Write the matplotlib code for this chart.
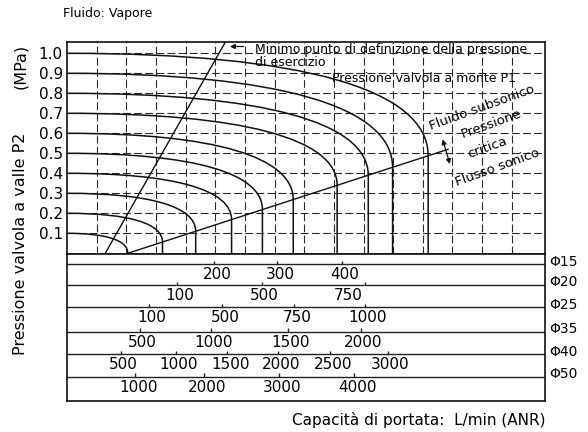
import matplotlib
matplotlib.use('Agg')
import matplotlib.pyplot as plt
from matplotlib.path import Path
from matplotlib.patches import PathPatch

# upstream pressure P1 for each curve (MPa)
p1_values = [0.1, 0.2, 0.3, 0.4, 0.5, 0.6, 0.7, 0.8, 0.9, 1.0]
# flow (grid units) where each curve turns sonic, and the critical P2 there
q_sonic = [2.05, 3.22, 4.34, 5.55, 6.59, 7.63, 9.11, 10.16, 10.98, 12.18]
p_crit = [0.0, 0.056, 0.11, 0.168, 0.219, 0.268, 0.34, 0.39, 0.43, 0.488]

# critical pressure line and minimum operating-pressure line
crit_q = [2.05, 12.85]
crit_p = [0.0, 0.52]
min_q = [1.29, 5.34]
min_p = [0.0, 1.056]

# flow scales for each port size
port_names = ['Φ15', 'Φ20', 'Φ25', 'Φ35', 'Φ40', 'Φ50']
scale_labels = [
    ['200', '300', '400'],
    ['100', '500', '750'],
    ['100', '500', '750', '1000'],
    ['500', '1000', '1500', '2000'],
    ['500', '1000', '1500', '2000', '2500', '3000'],
    ['1000', '2000', '3000', '4000'],
]
scale_ticks = [
    [4.96, 7.09, 9.26],
    [3.71, 6.56, 10.05],
    [2.75, 5.24, 7.66, 10.05],
    [2.45, 4.84, 7.44, 9.90],
    [1.81, 3.67, 5.40, 7.12, 8.87, 10.81],
    [2.31, 4.61, 7.14, 9.69],
]

W, H = 588, 432
fig = plt.figure(figsize=(W / 100, H / 100), dpi=100)
ax = fig.add_axes([67 / W, 1 - 254 / H, 478 / W, 212 / H])
axs = fig.add_axes([67 / W, 1 - 401 / H, 478 / W, 147 / H])

ink = '#111111'

# --- main chart ---
ax.set_xlim(0, 16.12)
ax.set_ylim(-0.0035, 1.0565)
ax.set_xticks(range(1, 16))
ax.set_xticklabels([])
ax.set_yticks(p1_values)
ax.set_yticklabels([f'{v:.1f}' for v in p1_values], fontsize=11)
ax.tick_params(length=0, pad=3)
ax.grid(True, color='#2a2a2a', linestyle=(0, (7, 3)), linewidth=0.8)
for s in ax.spines.values():
    s.set_linewidth(1.2)
    s.set_color(ink)

k = 0.65
for p1, qs, pc in zip(p1_values, q_sonic, p_crit):
    verts = [(0, p1), (k * qs, p1), (qs, pc + k * (p1 - pc)), (qs, pc), (qs, 0)]
    codes = [Path.MOVETO, Path.CURVE4, Path.CURVE4, Path.CURVE4, Path.LINETO]
    ax.add_patch(PathPatch(Path(verts, codes), fill=False, lw=1.1, ec=ink, zorder=3))

ax.plot(crit_q, crit_p, color=ink, lw=1.0, zorder=3)
ax.plot(min_q, min_p, color=ink, lw=1.0, zorder=3)

ax.annotate('', xy=(5.4, 1.034), xytext=(6.05, 1.034),
            arrowprops=dict(arrowstyle='-|>', color=ink, lw=0.9, mutation_scale=7))
ax.text(6.33, 1.021, 'Minimo punto di definizione della pressione', fontsize=9, va='center')
ax.text(6.33, 0.954, 'di esercizio', fontsize=9, va='center')
ax.text(8.92, 0.874, 'Pressione valvola a monte P1', fontsize=9, va='center')

ax.annotate('', xy=(12.64, 0.583), xytext=(12.94, 0.433),
            arrowprops=dict(arrowstyle='<|-|>', color=ink, lw=0.9, mutation_scale=7))
for txt, x, y in [('Fluido subsonico', 14.0, 0.726), ('Pressione', 14.33, 0.645),
                  ('critica', 14.17, 0.526), ('Flusso sonico', 14.5, 0.43)]:
    ax.text(x, y, txt, fontsize=9.5, rotation=20, ha='center', va='center',
            rotation_mode='anchor')

# --- flow scales ---
axs.set_xlim(ax.get_xlim())
axs.set_ylim(147, 0)
axs.set_xticks([])
axs.set_yticks([])
for s in axs.spines.values():
    s.set_linewidth(1.2)
    s.set_color(ink)

row_y = [10, 31, 53.3, 77.7, 100, 122.7]
nudge = {(1, 2): -20}
for r, (name, labs, ticks) in enumerate(zip(port_names, scale_labels, scale_ticks)):
    y = row_y[r]
    axs.axhline(y, color='#222222', lw=1.0)
    axs.vlines(ticks, y - 3.5, y, color='#222222', lw=1.0)
    for i, (lab, t) in enumerate(zip(labs, ticks)):
        axs.annotate(lab, xy=(t, y), xytext=(3 + nudge.get((r, i), 0), -10.5),
                     textcoords='offset pixels', ha='center', va='center', fontsize=11)
    axs.annotate(name, xy=(1, y), xycoords=('axes fraction', 'data'),
                 xytext=(4, 2.5), textcoords='offset pixels', ha='left', va='center',
                 fontsize=10, annotation_clip=False)

fig.text(63 / W, 1 - 13 / H, 'Fluido: Vapore', fontsize=9, va='center')
fig.text(21 / W, 1 - 244 / H, 'Pressione valvola a valle P2', fontsize=11.5,
         rotation=90, ha='center', va='center')
fig.text(21 / W, 1 - 66 / H, '(MPa)', fontsize=11.5, rotation=90, ha='center', va='center')
fig.text(545 / W, 1 - 420 / H, 'Capacità di portata:  L/min (ANR)', fontsize=11,
         ha='right', va='center')

fig.savefig('out.png', dpi=100)
